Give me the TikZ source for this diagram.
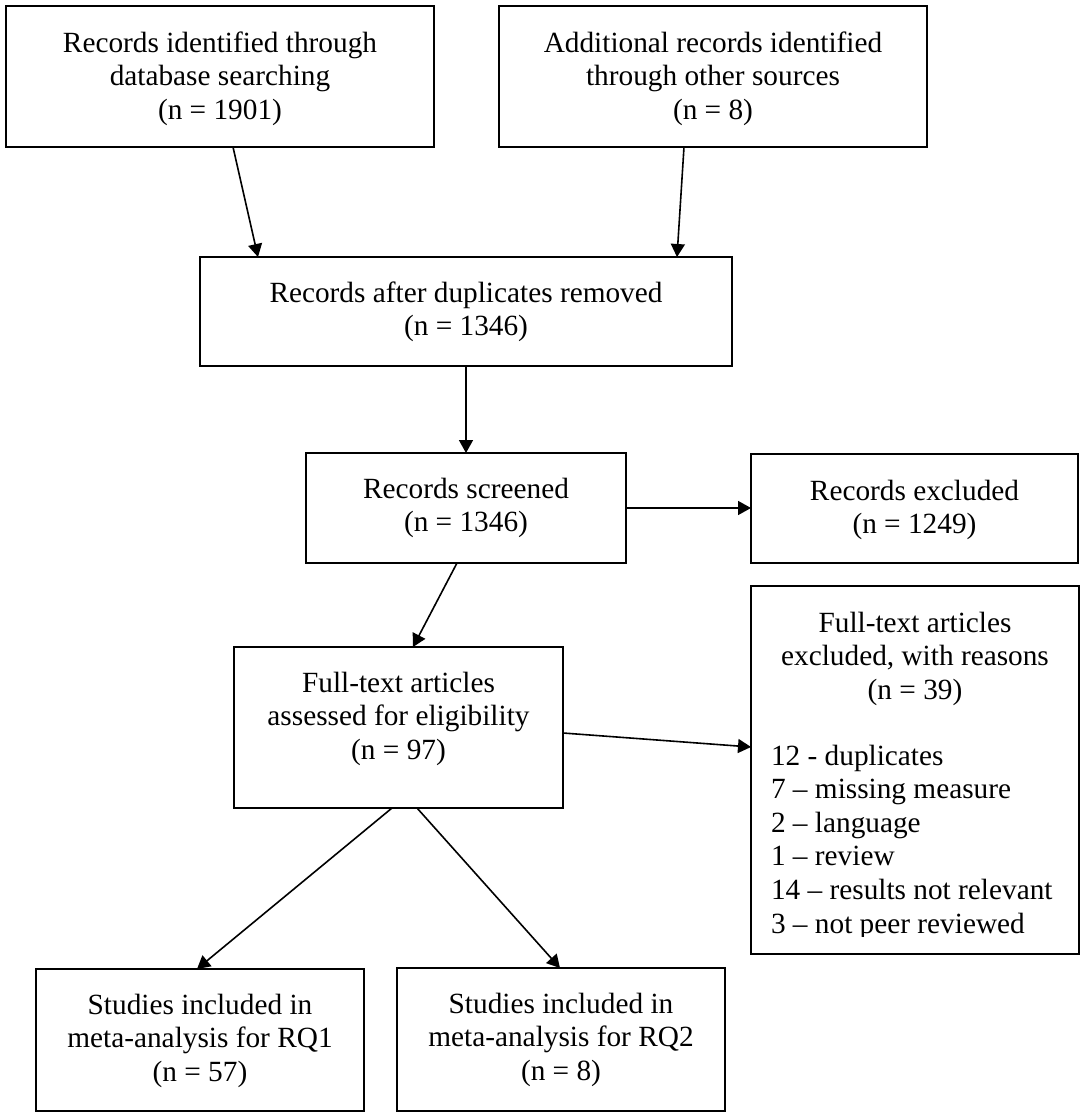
\documentclass[tikz,border=0pt]{standalone}
\usepackage{fontspec}
\setmainfont{Liberation Serif}
\usetikzlibrary{arrows.meta,calc}
\newcommand\tlines[1]{\begin{tabular}[t]{@{}c@{}}#1\end{tabular}}
\newcommand\llines[1]{\begin{tabular}[t]{@{}l@{}}#1\end{tabular}}
\begin{document}
\begin{tikzpicture}[x=1pt,y=-1pt,
  box/.style={draw=black, line width=2pt, rectangle, inner sep=0pt, outer sep=0pt},
  txt/.style={inner sep=0pt, outer sep=0pt, anchor=base, font=\fontsize{29.3}{33.6}\selectfont},
  ltxt/.style={txt, anchor=base west},
  arr/.style={draw=black, line width=1.6pt, -{Triangle[length=13pt,width=14pt]}}
]
\useasboundingbox (0,0) rectangle (1084,1117);

% boxes
\node[box, minimum width=428pt, minimum height=141pt] (b1) at (220,76.5) {};
\node[box, minimum width=428pt, minimum height=141pt] (b2) at (713,76.5) {};
\node[box, minimum width=532pt, minimum height=109pt] (b3) at (466,311.5) {};
\node[box, minimum width=320pt, minimum height=110pt] (b4) at (466,508) {};
\node[box, minimum width=327pt, minimum height=109pt] (b5) at (914.5,508.5) {};
\node[box, minimum width=328pt, minimum height=368pt] (b7) at (915,770) {};
\node[box, minimum width=329pt, minimum height=161pt] (b6) at (398.5,727.5) {};
\node[box, minimum width=328pt, minimum height=142pt] (b8) at (200,1040) {};
\node[box, minimum width=328pt, minimum height=143pt] (b9) at (561,1039.5) {};

% texts
\node[txt] (t1) at (220,52) {\tlines{Records identified through\\database searching\\(n = 1901)}};
\node[txt] (t2) at (713,52) {\tlines{Additional records identified\\through other sources\\(n = 8)}};
\node[txt] (t3) at (466,302) {\tlines{Records after duplicates removed\\(n = 1346)}};
\node[txt] (t4) at (466,498) {\tlines{Records screened\\(n = 1346)}};
\node[txt] (t5) at (914.5,500) {\tlines{Records excluded\\(n = 1249)}};
\node[txt] (t7) at (915,632) {\tlines{Full-text articles\\excluded, with reasons\\(n = 39)}};
\begin{scope}
  \clip (751,586) rectangle (1079,936);
  \node[ltxt] (t7l) at (771,765) {\llines{12 - duplicates\\7 – missing measure\\2 – language\\1 – review\\14 – results not relevant\\3 – not peer reviewed}};
\end{scope}
\node[txt] (t6) at (398.5,692) {\tlines{Full-text articles\\assessed for eligibility\\(n = 97)}};
\node[txt] (t8) at (200,1014) {\tlines{Studies included in\\meta-analysis for RQ1\\(n = 57)}};
\node[txt] (t9) at (561,1013) {\tlines{Studies included in\\meta-analysis for RQ2\\(n = 8)}};

% connectors
\draw[arr] ([xshift=227pt]b1.south west) -- ([xshift=58pt]b3.north west);
\draw[arr] ([xshift=185pt]b2.south west) -- ([xshift=477pt]b3.north west);
\draw[arr] (b3.south) -- (b4.north);
\draw[arr] (b4.east) -- (b4.east -| b5.west);
\draw[arr] ([xshift=151pt]b4.south west) -- ([xshift=179pt]b6.north west);
\draw[arr] ([yshift=-86pt]b6.north east) -- ([yshift=-161pt]b7.north west);
\draw[arr] ([xshift=158pt]b6.south west) -- ([xshift=161pt]b8.north west);
\draw[arr] ([xshift=183pt]b6.south west) -- ([xshift=163pt]b9.north west);
\end{tikzpicture}
\end{document}
